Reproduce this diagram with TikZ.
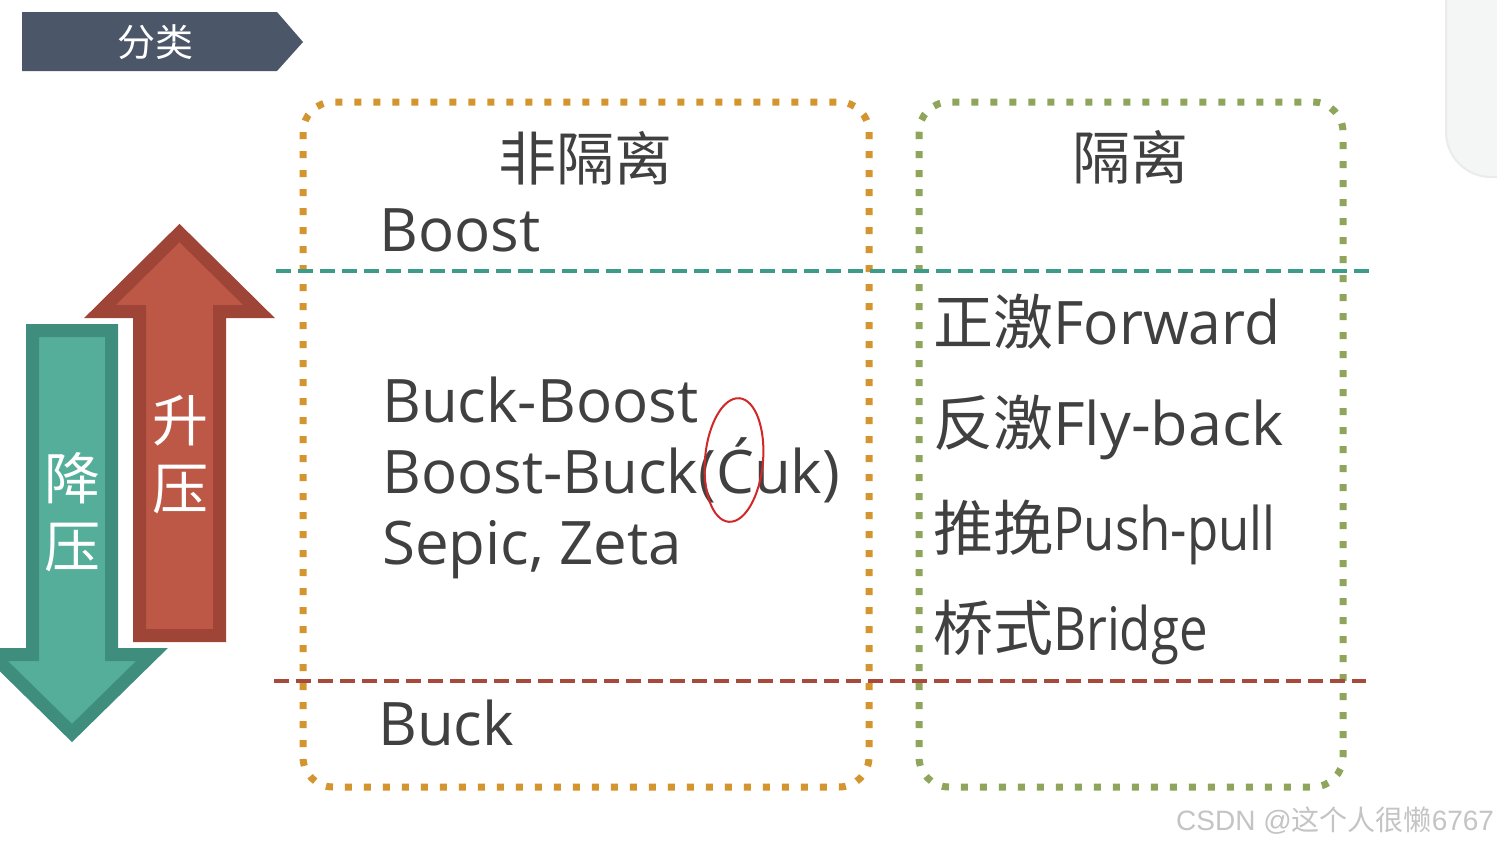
\documentclass[tikz,border=0pt]{standalone}
\usepackage{fontspec}
\usepackage{graphicx}
\setmainfont{Open Sans}
\newfontfamily\cjk{Noto Sans CJK SC}
\newfontfamily\wmfont{Liberation Sans}
\definecolor{hdr}{HTML}{4B5669}
\definecolor{boxorange}{HTML}{D4952E}
\definecolor{boxgreen}{HTML}{8FA55C}
\definecolor{lineteal}{HTML}{3D9B8A}
\definecolor{linered}{HTML}{A84A3B}
\definecolor{redfill}{HTML}{BD5847}
\definecolor{redborder}{HTML}{9E4537}
\definecolor{tealfill}{HTML}{54AE9A}
\definecolor{tealborder}{HTML}{3F8D7C}
\definecolor{textgray}{HTML}{404040}
\definecolor{panelgray}{HTML}{F4F5F5}
\definecolor{paneledge}{HTML}{E9ECEB}
\definecolor{wmgray}{HTML}{C4C4C4}
\definecolor{inkred}{HTML}{D02828}
\begin{document}
\begin{tikzpicture}[x=1pt,y=-1pt,
  dotbox/.style={line width=7pt, dash pattern=on 7pt off 12pt, rounded corners=30pt},
  sepline/.style={line width=4pt, dash pattern=on 15pt off 7pt},
  bigarrow/.style={line width=13pt, line join=miter, miter limit=10},
  txt/.style={anchor=base west, inner sep=0pt, text=textgray, font=\fontsize{60}{70}\selectfont},
  head/.style={inner sep=0pt, text=textgray, font=\cjk\fontsize{58}{66}\selectfont},
  arrowtxt/.style={inner sep=0pt, text=white, align=center, font=\cjk\fontsize{56}{68}\selectfont}]
\useasboundingbox (0,0) rectangle (1497,846);
\clip (0,0) rectangle (1497,846);
\fill[white] (0,0) rectangle (1497,846);

% right panel
\draw[fill=panelgray, draw=paneledge, line width=2pt, rounded corners=45pt] (1446,-60) rectangle (1560,177);

% header
\fill[hdr] (22,12) -- (277,12) -- (303,42) -- (277,71) -- (22,71) -- cycle;
\node[inner sep=0pt, text=white, font=\cjk\fontsize{38}{40}\selectfont] (hdrtxt) at (155,42) {分类};

% boxes
\draw[dotbox, draw=boxorange] (303,102) rectangle (869,787);
\draw[dotbox, draw=boxgreen] (919,102) rectangle (1343,787);

% separators
\coordinate (tl) at (276,271); \coordinate (tr) at (1369,271);
\coordinate (bl) at (274,681); \coordinate (br) at (1366,681);
\draw[sepline, draw=lineteal] (tl) -- (tr);
\draw[sepline, draw=linered] (bl) -- (br);

% arrows
\draw[bigarrow, draw=redborder, fill=redfill]
  (139.5,635.5) -- (139.5,311.5) -- (100,311.5) -- (179.5,233) -- (259,311.5) -- (219.5,311.5) -- (219.5,635.5) -- cycle;
\draw[bigarrow, draw=tealborder, fill=tealfill]
  (32.5,330.5) -- (32.5,654.5) -- (-8,654.5) -- (72,733) -- (152,654.5) -- (111.5,654.5) -- (111.5,330.5) -- cycle;
\node[arrowtxt] (up) at (180,455) {升\\压};
\node[arrowtxt] (down) at (72,512) {降\\压};

% headings
\node[head] (h1) at (585,158) {非隔离};
\node[head] (h2) at (1130,157) {隔离};

% left column
\node[txt] (boost) at (379,251) {Boost};
\node[txt] (bb) at (382,422) {Buck-Boost};
\node[txt] (bk) at (382,493) {Boost-Buck(Ćuk)};
\node[txt] (sz) at (382,564) {Sepic, Zeta};
\node[txt] (buck) at (378,745) {Buck};

% right column
\node[txt] (fw) at (933,344) {{\cjk 正激}\scalebox{0.98}[1]{Forward}};
\node[txt] (fb) at (933,445) {{\cjk 反激}\scalebox{1.02}[1]{Fly-back}};
\node[txt] (pp) at (933,550) {{\cjk 推挽}\scalebox{0.85}[1]{Push-pull}};
\node[txt] (br) at (933,650) {{\cjk 桥式}\scalebox{0.85}[1]{Bridge}};

% annotation
\draw[inkred, line width=2pt, rotate around={-5:(734,460)}] (734,460) ellipse [x radius=29, y radius=62];

% watermark
\node[anchor=base west, inner sep=0pt, text=wmgray, font=\wmfont\fontsize{28}{30}\selectfont] (wm) at (1176,830) {CSDN @{\cjk 这个人很懒}6767};
\end{tikzpicture}
\end{document}
